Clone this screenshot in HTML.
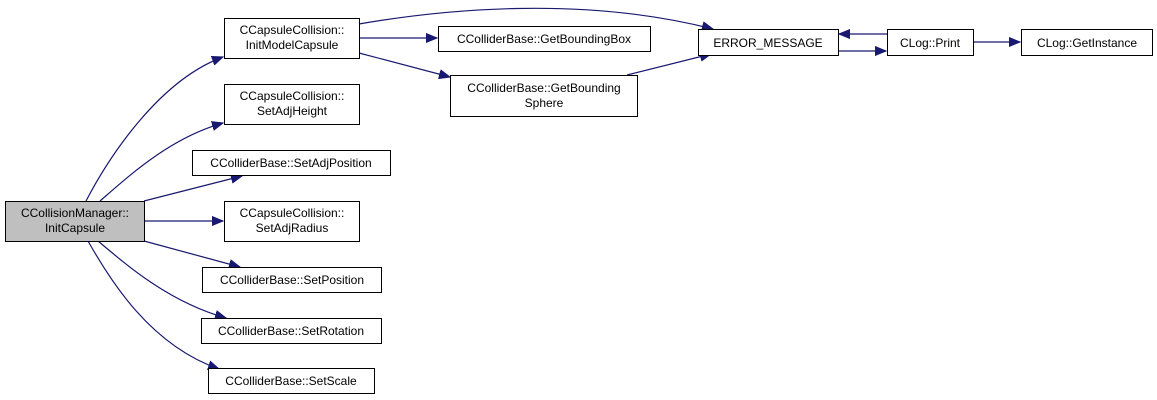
<!DOCTYPE html>
<html><head><meta charset="utf-8"><style>
html,body{margin:0;padding:0;background:#fff;}
svg{display:block;}
text{font-family:"Liberation Sans",Arial,sans-serif;font-size:12px;fill:#000;}
</style></head><body>
<svg width="1157" height="400" viewBox="0 0 1157 400" xmlns="http://www.w3.org/2000/svg">
<defs>
<marker id="a" markerUnits="userSpaceOnUse" markerWidth="12" markerHeight="10" refX="11" refY="5" orient="auto">
<path d="M0,0.5 L11,5 L0,9.5 Z" fill="#191970" stroke="#191970"/>
</marker>
</defs>
<g fill="none" stroke="#191970" stroke-width="1.2" marker-end="url(#a)">
<path d="M86,201 C110,155 160,80 223,57"/>
<path d="M100,201 C130,175 170,138 223,123"/>
<path d="M144,201 L242,176"/>
<path d="M144,221 L223,221"/>
<path d="M144,241 L240,267"/>
<path d="M98,241 C130,268 170,302 226,318"/>
<path d="M88,241 C110,280 150,345 219,369"/>
<path d="M359,24 C440,10 580,-5 713,29"/>
<path d="M359,38 L437,38"/>
<path d="M359,53 L450,77"/>
<path d="M627,75 L711,54"/>
<path d="M887,34 L839,34"/>
<path d="M838,51 L886,51"/>
<path d="M973,42 L1020,42"/>
</g>
<g stroke="#000" stroke-width="1" fill="#fff">
<rect x="5.5" y="201.5" width="139" height="40" fill="#bfbfbf"/>
<rect x="224.5" y="18.5" width="135" height="40"/>
<rect x="224.5" y="84.5" width="135" height="40"/>
<rect x="192.5" y="150.5" width="198" height="25"/>
<rect x="224.5" y="201.5" width="135" height="40"/>
<rect x="202.5" y="267.5" width="179" height="25"/>
<rect x="201.5" y="318.5" width="180" height="25"/>
<rect x="208.5" y="368.5" width="166" height="25"/>
<rect x="438.5" y="26.5" width="212" height="25"/>
<rect x="450.5" y="75.5" width="187" height="41"/>
<rect x="698.5" y="29.5" width="140" height="26"/>
<rect x="887.5" y="29.5" width="86" height="26"/>
<rect x="1021.5" y="29.5" width="131" height="26"/>
</g>
<g text-anchor="middle">
<text x="75" y="217">CCollisionManager::</text>
<text x="75" y="232">InitCapsule</text>
<text x="292" y="34">CCapsuleCollision::</text>
<text x="292" y="49">InitModelCapsule</text>
<text x="292" y="100">CCapsuleCollision::</text>
<text x="292" y="115">SetAdjHeight</text>
<text x="291" y="167">CColliderBase::SetAdjPosition</text>
<text x="292" y="217">CCapsuleCollision::</text>
<text x="292" y="232">SetAdjRadius</text>
<text x="292" y="284">CColliderBase::SetPosition</text>
<text x="291" y="335">CColliderBase::SetRotation</text>
<text x="291" y="385">CColliderBase::SetScale</text>
<text x="544" y="43">CColliderBase::GetBoundingBox</text>
<text x="544" y="92">CColliderBase::GetBounding</text>
<text x="544" y="107">Sphere</text>
<text x="768" y="47">ERROR_MESSAGE</text>
<text x="930" y="47">CLog::Print</text>
<text x="1087" y="47">CLog::GetInstance</text>
</g>
</svg>
</body></html>
